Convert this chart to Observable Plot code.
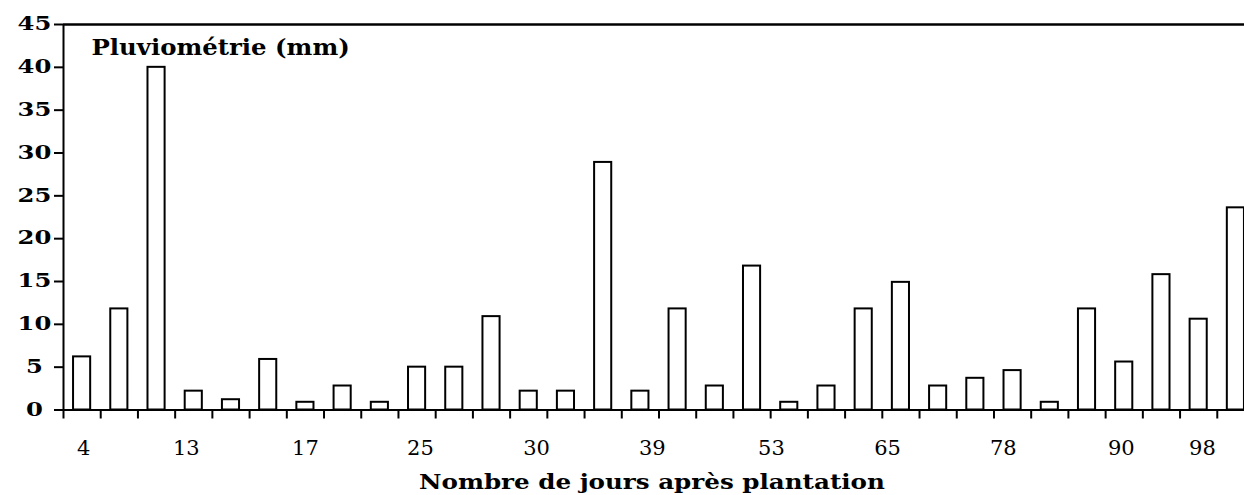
<!DOCTYPE html>
<html><head><meta charset="utf-8">
<script src="https://cdn.jsdelivr.net/npm/d3@7"></script>
<script src="https://cdn.jsdelivr.net/npm/@observablehq/plot@0.6"></script>
<style>
html,body{margin:0;padding:0;background:#fff;overflow:hidden;}
</style></head><body><div id="chart"></div>
<script>
// Pluviométrie (mm) for each rain event, in order
const rain = [6.2, 11.8, 40, 2.2, 1.2, 5.9, 0.9, 2.8, 0.9, 5.0, 5.0, 10.9, 2.2, 2.2, 28.9, 2.2,
              11.8, 2.8, 16.8, 0.9, 2.8, 11.8, 14.9, 2.8, 3.7, 4.6, 0.9, 11.8, 5.6, 15.8, 10.6, 23.6];
const yTicks = [0, 5, 10, 15, 20, 25, 30, 35, 40, 45];
// Day labels (nombre de jours après plantation) and where they sit along the bar sequence
const dayLabels = ["4", "13", "17", "25", "30", "39", "53", "65", "78", "90", "98"];
const dayLabelPos = [1.04, 3.8, 7.0, 10.09, 13.21, 16.32, 19.52, 22.64, 25.75, 28.92, 31.1];
const yTitle = "Pluviométrie (mm)";
const xTitle = "Nombre de jours après plantation";

const bars = rain.map((v, i) => ({k: i + 1, v}));
const bounds = d3.range(0.5, rain.length + 1, 1);
const labels = dayLabels.map((t, i) => ({t, x: dayLabelPos[i]}));
const font = "'DejaVu Serif', serif";

const chart = Plot.plot({
  width: 1244, height: 495,
  marginTop: 24, marginBottom: 85.5, marginLeft: 63, marginRight: 0,
  style: {fontFamily: font, background: "white", overflow: "hidden", maxWidth: "none"},
  x: {domain: [0.5, rain.length + 0.5], range: [63, 1254], axis: null},
  y: {domain: [0, 45], axis: null},
  marks: [
    Plot.rectY(bars, {x1: d => d.k - 0.23, x2: d => d.k + 0.23, y1: 0, y2: "v", fill: "white", stroke: "black", strokeWidth: 2}),
    Plot.ruleY([0], {stroke: "black", strokeWidth: 2}),
    Plot.ruleY([45], {stroke: "black", strokeWidth: 2.5}),
    Plot.ruleX([0.5], {stroke: "black", strokeWidth: 2}),
    Plot.axisY({ticks: yTicks, tickSize: 9, strokeWidth: 2, tickPadding: 20, textAnchor: "middle",
                fontSize: 18, fontWeight: "bold", label: null, color: "black"}),
    Plot.axisX({ticks: bounds, tickSize: 9, strokeWidth: 2, tickFormat: () => "", label: null, color: "black"}),
    Plot.text(labels, {x: "x", text: "t", frameAnchor: "bottom", lineAnchor: "middle", dy: 38, fontSize: 21, fill: "black"}),
    Plot.text([xTitle], {frameAnchor: "bottom", lineAnchor: "middle", dy: 73, dx: -2, fontSize: 20, fontWeight: "bold", fill: "black"}),
    Plot.text([yTitle], {frameAnchor: "top-left", lineAnchor: "middle", dx: 28, dy: 23, textAnchor: "start", fontSize: 23, fontWeight: "bold", fill: "black"})
  ]
});
document.getElementById("chart").appendChild(chart);

// horizontal stretch of some texts (about their anchor) to match the wide serif of the original
function stretch(el, s) {
  const bb = el.getBBox();
  const anchor = getComputedStyle(el).textAnchor || el.getAttribute("text-anchor") || "start";
  const cx = anchor === "middle" ? bb.x + bb.width / 2 : anchor === "end" ? bb.x + bb.width : bb.x;
  const t = el.getAttribute("transform") || "";
  el.setAttribute("transform", `${t} translate(${cx},0) scale(${s},1) translate(${-cx},0)`);
}
const svg = d3.select(chart);
svg.selectAll('g[aria-label="y-axis tick label"] text').each(function() { stretch(this, 1.35); });
svg.selectAll("text").filter(function() { return this.textContent === xTitle; }).each(function() { stretch(this, 1.23); });
svg.selectAll("text").filter(function() { return this.textContent === yTitle; }).each(function() { stretch(this, 1.06); });
</script></body></html>
